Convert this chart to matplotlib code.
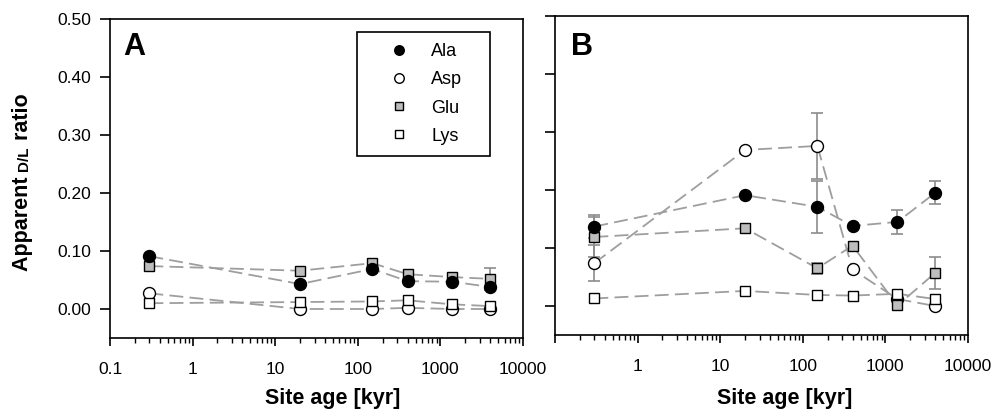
import numpy as np
import matplotlib
matplotlib.use('Agg')
import matplotlib.pyplot as plt
from matplotlib.lines import Line2D

plt.rcParams['font.family'] = ['Liberation Sans', 'DejaVu Sans']
plt.rcParams['lines.scale_dashes'] = False

# site ages (kyr)
age = [0.3, 20, 150, 400, 1400, 4000]

# panel A
ala_a = [0.091, 0.043, 0.069, 0.048, 0.047, 0.038]
asp_a = [0.027, 0.000, 0.000, 0.002, 0.000, 0.000]
glu_a = [0.074, 0.066, 0.079, 0.060, 0.055, 0.052]
lys_a = [0.010, 0.012, 0.013, 0.015, 0.008, 0.005]
ala_a_err = [0, 0, 0, 0, 0, 0]
asp_a_err = [0, 0, 0, 0, 0, 0]
glu_a_err = [0, 0, 0, 0, 0, 0.019]
lys_a_err = [0, 0, 0, 0, 0, 0]

# panel B
ala_b = [0.137, 0.191, 0.171, 0.138, 0.145, 0.195]
asp_b = [0.074, 0.269, 0.276, 0.063, 0.012, 0.000]
glu_b = [0.119, 0.134, 0.065, 0.104, 0.001, 0.057]
lys_b = [0.013, 0.026, 0.019, 0.018, 0.021, 0.012]
ala_b_err = [0.020, 0, 0.045, 0, 0.020, 0.020]
asp_b_err = [0.031, 0, 0.057, 0, 0, 0]
glu_b_err = [0.035, 0, 0.010, 0, 0, 0.028]
lys_b_err = [0, 0, 0, 0, 0, 0]

amino = ['Ala', 'Asp', 'Glu', 'Lys']
styles = {
    'Ala': dict(marker='o', mfc='black', ms=8.6),
    'Asp': dict(marker='o', mfc='white', ms=8.6),
    'Glu': dict(marker='s', mfc='#bdbdbd', ms=7.8),
    'Lys': dict(marker='s', mfc='white', ms=7.8),
}
# drawing order (later on top)
order = ['Asp', 'Glu', 'Ala', 'Lys']

panel_a = {'Ala': (ala_a, ala_a_err), 'Asp': (asp_a, asp_a_err),
           'Glu': (glu_a, glu_a_err), 'Lys': (lys_a, lys_a_err)}
panel_b = {'Ala': (ala_b, ala_b_err), 'Asp': (asp_b, asp_b_err),
           'Glu': (glu_b, glu_b_err), 'Lys': (lys_b, lys_b_err)}

line_col = '#9e9e9e'
err_col = '#8c8c8c'

W, H = 995, 411
fig = plt.figure(figsize=(W / 100, H / 100), dpi=100)


def px_box(x0, y0, x1, y1):
    # pixel box (top-left origin) -> figure fraction rect
    return [x0 / W, 1 - y1 / H, (x1 - x0) / W, (y1 - y0) / H]


ax_a = fig.add_axes(px_box(110, 19, 523, 338))
ax_b = fig.add_axes(px_box(555, 16, 968, 335))


def draw_panel(ax, data):
    for i, name in enumerate(order):
        vals, err = data[name]
        z = 3 + i
        ax.plot(age, vals, color=line_col, lw=1.3, dashes=(10, 4.5), zorder=1)
        idx = [k for k, e in enumerate(err) if e > 0]
        if idx:
            ax.errorbar([age[k] for k in idx], [vals[k] for k in idx],
                        yerr=[err[k] for k in idx], fmt='none', ecolor=err_col,
                        elinewidth=1.2, capsize=4.2, capthick=1.2, zorder=2)
        st = styles[name]
        ax.plot(age, vals, linestyle='none', marker=st['marker'], ms=st['ms'],
                mfc=st['mfc'], mec='black', mew=1.0, zorder=z)

    ax.set_xscale('log')
    ax.set_xlim(0.1, 10000)
    ax.set_ylim(-0.05, 0.5)
    ax.set_yticks([0.0, 0.1, 0.2, 0.3, 0.4, 0.5])
    for sp in ax.spines.values():
        sp.set_linewidth(1.2)
    ax.tick_params(axis='y', which='major', direction='out', length=7.5,
                   width=1.2, labelsize=12.5, pad=6)
    ax.tick_params(axis='x', which='major', direction='out', length=6,
                   width=1.2, labelsize=12.5, pad=11)
    ax.tick_params(axis='x', which='minor', direction='out', length=3.5, width=1.0)


draw_panel(ax_a, panel_a)
draw_panel(ax_b, panel_b)

ax_a.set_xticks([0.1, 1, 10, 100, 1000, 10000])
ax_a.set_xticklabels(['0.1', '1', '10', '100', '1000', '10000'])
ax_a.set_yticklabels(['0.00', '0.10', '0.20', '0.30', '0.40', '0.50'])

ax_b.set_xticks([0.1, 1, 10, 100, 1000, 10000])
ax_b.set_xticklabels(['', '1', '10', '100', '1000', '10000'])
ax_b.set_yticklabels([])

# panel letters
fig.text(123 / W, 1 - 55 / H, 'A', fontsize=22, fontweight='bold', va='baseline')
fig.text(571 / W, 1 - 55 / H, 'B', fontsize=22, fontweight='bold', va='baseline')

# axis labels
fig.text(333 / W, 1 - 398 / H, 'Site age [kyr]', fontsize=15.5, fontweight='bold',
         ha='center', va='center')
fig.text(785 / W, 1 - 398 / H, 'Site age [kyr]', fontsize=15.5, fontweight='bold',
         ha='center', va='center')

# y label with small-caps style D/L
renderer = fig.canvas.get_renderer()
y_pos = 1 - 271 / H
for piece, size in [('Apparent ', 15.5), ('D/L', 11), (' ratio', 15.5)]:
    t = fig.text(28 / W, y_pos, piece, fontsize=size, fontweight='bold',
                 rotation=90, rotation_mode='anchor', ha='left', va='baseline')
    bb = t.get_window_extent(renderer)
    y_pos += bb.height / H

# legend
handles = [Line2D([], [], linestyle='none', marker=styles[n]['marker'],
                  ms=styles[n]['ms'] * 0.8, mfc=styles[n]['mfc'], mec='black',
                  mew=1.0) for n in amino]
leg = ax_a.legend(handles, amino, loc='upper left', mode='expand',
                  bbox_to_anchor=px_box(357, 32, 490, 153),
                  bbox_transform=fig.transFigure, borderaxespad=0,
                  fontsize=13, frameon=True, fancybox=False, framealpha=1,
                  edgecolor='black', borderpad=0.62, labelspacing=0.62,
                  handlelength=3.4, handletextpad=0.1, numpoints=1)
leg.get_frame().set_linewidth(1.2)

fig.savefig('out.png', dpi=100)
